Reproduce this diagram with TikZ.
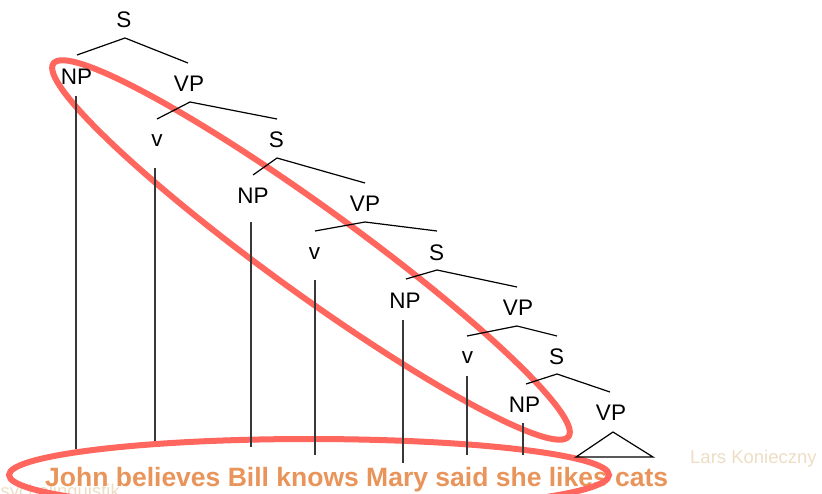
\documentclass[tikz,border=0pt]{standalone}
\usepackage{fontspec}
\setmainfont{Liberation Sans}
\definecolor{ellred}{RGB}{255,102,94}
\definecolor{sentorange}{RGB}{232,148,90}
\definecolor{lightbeige}{RGB}{237,221,196}
\definecolor{vlinecol}{RGB}{55,55,55}
\begin{document}
\begin{tikzpicture}[x=1pt,y=-1pt,
  lab/.style={inner sep=0pt, font=\fontsize{22.5}{27}\selectfont},
  branch/.style={draw=black, line width=1.2pt, line join=miter},
  wordline/.style={draw=vlinecol, line width=1.3pt},
  ring/.style={draw=ellred, line width=6pt},
  credit/.style={inner sep=0pt, anchor=base west, text=lightbeige, font=\fontsize{18.5}{22}\selectfont}]
\useasboundingbox (0,0) rectangle (822,493);
% background credits
\node[credit] (inst) at (-12,497) {Psycholinguistik};
\node[credit] (author) at (690,463) {Lars Konieczny};
% sentence
\node[inner sep=0pt, anchor=base west, text=sentorange, font=\bfseries\fontsize{26.5}{30}\selectfont] (sent) at (45,486) {John believes Bill knows Mary said she likes cats};
% ellipses
\coordinate (c1) at (311,250);
\coordinate (c2) at (309,475);
\draw[ring, rotate around={-35.9:(c1)}] (c1) ellipse [x radius=318, y radius=43];
\draw[ring] (c2) ellipse [x radius=300, y radius=36];
% labels
\node[lab] (S1) at (124,20) {S};
\node[lab] (NP1) at (76.5,76.5) {NP};
\node[lab] (VP1) at (189,84) {VP};
\node[lab] (v1) at (157,141) {v};
\node[lab] (S2) at (276.5,140) {S};
\node[lab] (NP2) at (253,196) {NP};
\node[lab] (VP2) at (365,204) {VP};
\node[lab] (v2) at (314.5,254) {v};
\node[lab] (S3) at (436.5,252.5) {S};
\node[lab] (NP3) at (405,301) {NP};
\node[lab] (VP3) at (518,308) {VP};
\node[lab] (v3) at (467.5,358) {v};
\node[lab] (S4) at (556.5,356.5) {S};
\node[lab] (NP4) at (524.5,405) {NP};
\node[lab] (VP4) at (611,413) {VP};
% branch coordinates
\coordinate (S1a) at (125,38);  \coordinate (S1l) at (77,55);   \coordinate (S1r) at (188,63);
\coordinate (VP1a) at (190,102); \coordinate (VP1l) at (157,119); \coordinate (VP1r) at (277,119);
\coordinate (S2a) at (277,158); \coordinate (S2l) at (253,175); \coordinate (S2r) at (365,183);
\coordinate (VP2a) at (365,222); \coordinate (VP2l) at (315,231); \coordinate (VP2r) at (437,231);
\coordinate (S3a) at (437,270); \coordinate (S3l) at (406,279); \coordinate (S3r) at (517,287);
\coordinate (VP3a) at (517,326); \coordinate (VP3l) at (467,336); \coordinate (VP3r) at (557,336);
\coordinate (S4a) at (557,374); \coordinate (S4l) at (526,384); \coordinate (S4r) at (610,392);
\coordinate (VP4a) at (613,432); \coordinate (VP4l) at (576,457); \coordinate (VP4r) at (653,457);
\draw[branch] (S1l) -- (S1a) -- (S1r);
\draw[branch] (VP1l) -- (VP1a) -- (VP1r);
\draw[branch] (S2l) -- (S2a) -- (S2r);
\draw[branch] (VP2l) -- (VP2a) -- (VP2r);
\draw[branch] (S3l) -- (S3a) -- (S3r);
\draw[branch] (VP3l) -- (VP3a) -- (VP3r);
\draw[branch] (S4l) -- (S4a) -- (S4r);
\draw[branch] (VP4l) -- (VP4a) -- (VP4r) -- cycle;
% word lines
\coordinate (w1t) at (76,96);   \coordinate (w1b) at (76,449);
\coordinate (w2t) at (155,168); \coordinate (w2b) at (155,441);
\coordinate (w3t) at (251,222); \coordinate (w3b) at (251,447);
\coordinate (w4t) at (315,280); \coordinate (w4b) at (315,455);
\coordinate (w5t) at (403,320); \coordinate (w5b) at (403,463);
\coordinate (w6t) at (467,376); \coordinate (w6b) at (467,455);
\coordinate (w7t) at (523,423); \coordinate (w7b) at (523,455);
\draw[wordline] (w1t) -- (w1b);
\draw[wordline] (w2t) -- (w2b);
\draw[wordline] (w3t) -- (w3b);
\draw[wordline] (w4t) -- (w4b);
\draw[wordline] (w5t) -- (w5b);
\draw[wordline] (w6t) -- (w6b);
\draw[wordline] (w7t) -- (w7b);
\end{tikzpicture}
\end{document}
